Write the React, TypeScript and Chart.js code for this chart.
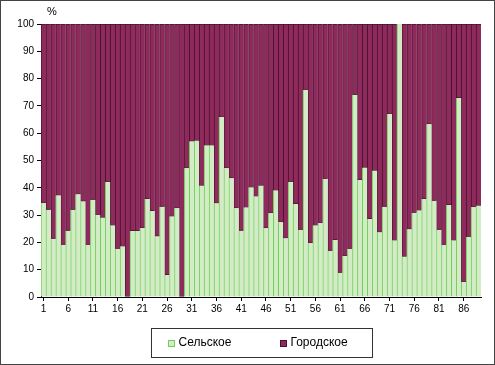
import { useEffect, useRef } from "react";
import { Chart, registerables } from "chart.js";
Chart.register(...registerables);

const FONT = "'Liberation Sans', Arial, sans-serif";

const categories = [
  "1","2","3","4","5","6","7","8","9","10",
  "11","12","13","14","15","16","17","18","19","20",
  "21","22","23","24","25","26","27","28","29","30",
  "31","32","33","34","35","36","37","38","39","40",
  "41","42","43","44","45","46","47","48","49","50",
  "51","52","53","54","55","56","57","58","59","60",
  "61","62","63","64","65","66","67","68","69","70",
  "71","72","73","74","75","76","77","78","79","80",
  "81","82","83","84","85","86","87","88","89",
];

const xTickLabels = ["1","6","11","16","21","26","31","36","41","46","51","56","61","66","71","76","81","86"];

const seriesNames = ["Сельское", "Городское"];

const rural = [
  34.4,32,21.3,37.2,19.1,24.3,32,37.6,35,19.1,
  35.6,30.1,29.1,42.1,26.2,17.7,18.5,0,24.2,24.2,
  25.2,35.9,31.5,22.2,33.1,8.1,29.5,32.5,0,47.2,
  57,57.3,40.8,55.5,55.5,34.3,65.9,47.2,43.5,32.5,
  24.3,32.8,40.1,36.8,40.8,25.2,30.7,39,27.4,21.5,
  42.2,34.1,24.6,75.9,19.7,26.2,27,43.3,16.9,20.9,
  8.9,15,17.7,74.1,42.9,47.4,28.6,46.3,23.7,33.1,
  67,20.7,100,14.8,24.8,30.9,31.7,35.9,63.3,35.3,
  24.6,19.1,33.7,20.7,72.9,5.6,22.1,32.9,33.5,
];

const urban = [
  65.6,68,78.7,62.8,80.9,75.7,68,62.4,65,80.9,
  64.4,69.9,70.9,57.9,73.8,82.3,81.5,100,75.8,75.8,
  74.8,64.1,68.5,77.8,66.9,91.9,70.5,67.5,100,52.8,
  43,42.7,59.2,44.5,44.5,65.7,34.1,52.8,56.5,67.5,
  75.7,67.2,59.9,63.2,59.2,74.8,69.3,61,72.6,78.5,
  57.8,65.9,75.4,24.1,80.3,73.8,73,56.7,83.1,79.1,
  91.1,85,82.3,25.9,57.1,52.6,71.4,53.7,76.3,66.9,
  33,79.3,0,85.2,75.2,69.1,68.3,64.1,36.7,64.7,
  75.4,80.9,66.3,79.3,27.1,94.4,77.9,67.1,66.5,
];

const yTicks = [0, 10, 20, 30, 40, 50, 60, 70, 80, 90, 100];

const GREEN_FILL = "#d3ecc6";
const GREEN_EDGE = "#6fd05a";
const PURPLE_FILL = "#8e2a5c";
const PURPLE_EDGE = "#4a1230";

export default function App() {
  const ref = useRef<HTMLCanvasElement>(null);

  useEffect(() => {
    if (!ref.current) return;

    const boxLegend = {
      id: "boxLegend",
      afterDraw(chart: any) {
        const { ctx, chartArea } = chart;
        ctx.save();
        ctx.fillStyle = "#000";
        ctx.font = `11px ${FONT}`;
        ctx.textAlign = "left";
        ctx.textBaseline = "middle";
        ctx.fillText("%", chartArea.left + 6, chartArea.top - 12);

        const bw = 221;
        const bh = 29;
        const bx = Math.round((chartArea.left + chartArea.right) / 2 - bw / 2) + 0.5;
        const by = Math.round(chartArea.bottom + 31) + 0.5;
        ctx.strokeStyle = "#333";
        ctx.lineWidth = 1;
        ctx.strokeRect(bx, by, bw, bh);

        const offsets = [16, 128];
        const fills = [GREEN_FILL, PURPLE_FILL];
        const edges = [GREEN_EDGE, PURPLE_EDGE];
        ctx.font = `12px ${FONT}`;
        chart.data.datasets.forEach((ds: any, i: number) => {
          const sx = Math.round(bx + offsets[i]) + 0.5;
          const sy = Math.round(by + 11) + 0.5;
          ctx.fillStyle = fills[i];
          ctx.fillRect(sx, sy, 6, 6);
          ctx.strokeStyle = edges[i];
          ctx.lineWidth = 1;
          ctx.strokeRect(sx, sy, 6, 6);
          ctx.fillStyle = "#000";
          ctx.fillText(ds.label, sx + 10, by + 14.5);
        });
        ctx.restore();
      },
    };

    const chart = new Chart(ref.current, {
      type: "bar",
      data: {
        labels: categories,
        datasets: [
          {
            label: seriesNames[0],
            data: rural,
            backgroundColor: GREEN_FILL,
            borderColor: GREEN_EDGE,
            borderWidth: { left: 1, right: 0, top: 0, bottom: 0 },
            borderSkipped: false,
            categoryPercentage: 1,
            barPercentage: 1,
          },
          {
            label: seriesNames[1],
            data: urban,
            backgroundColor: PURPLE_FILL,
            borderColor: PURPLE_EDGE,
            borderWidth: { left: 1, right: 0, top: 1, bottom: 1 },
            borderSkipped: false,
            categoryPercentage: 1,
            barPercentage: 1,
          },
        ],
      },
      options: {
        animation: false,
        responsive: false,
        maintainAspectRatio: false,
        layout: { padding: { top: 23, right: 13, bottom: 47, left: 0 } },
        plugins: {
          legend: { display: false },
          tooltip: { enabled: false },
        },
        scales: {
          x: {
            stacked: true,
            grid: {
              offset: false,
              drawOnChartArea: false,
              drawTicks: true,
              tickLength: 4,
              color: (c: any) =>
                xTickLabels.includes(categories[c.index]) ? "#000" : "rgba(0,0,0,0)",
            },
            border: { display: true, color: "#000", width: 1 },
            ticks: {
              autoSkip: false,
              maxRotation: 0,
              minRotation: 0,
              padding: 2,
              color: "#000",
              font: { size: 10, family: FONT },
              callback: (_v: any, i: number) =>
                xTickLabels.includes(categories[i]) ? categories[i] : "",
            },
            afterFit: (s: any) => {
              s.height = 20;
            },
          },
          y: {
            stacked: true,
            min: yTicks[0],
            max: yTicks[yTicks.length - 1],
            afterBuildTicks: (s: any) => {
              s.ticks = yTicks.map((v) => ({ value: v }));
            },
            grid: {
              drawOnChartArea: false,
              drawTicks: true,
              tickLength: 4,
              color: "#000",
            },
            border: { display: true, color: "#000", width: 1 },
            ticks: {
              padding: 3,
              color: "#000",
              font: { size: 10, family: FONT },
            },
            afterFit: (s: any) => {
              s.width = 40;
            },
          },
        },
      },
      plugins: [boxLegend],
    });

    return () => chart.destroy();
  }, []);

  return (
    <div
      style={{
        position: "fixed",
        left: 0,
        top: 0,
        width: 495,
        height: 365,
        boxSizing: "border-box",
        border: "1px solid #444",
        background: "#fff",
      }}
    >
      <canvas ref={ref} width={493} height={363} style={{ display: "block" }} />
    </div>
  );
}
